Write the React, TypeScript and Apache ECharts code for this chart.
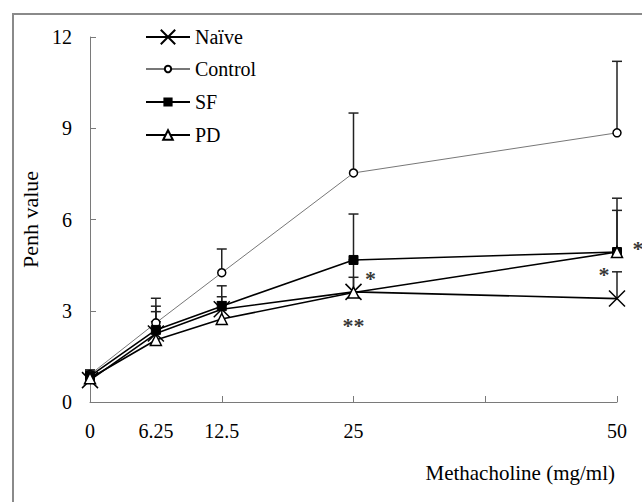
import React, { useEffect, useRef } from "react";
import * as echarts from "echarts";

const doses = [0, 6.25, 12.5, 25, 50];
const xTickLabels = [0, 6.25, 12.5, 25, 50];
const seriesNames = ["Naïve", "Control", "SF", "PD"];
const naive = [0.72, 2.25, 3.05, 3.62, 3.4];
const control = [0.9, 2.6, 4.25, 7.53, 8.85];
const sf = [0.85, 2.37, 3.15, 4.67, 4.93];
const pd = [0.78, 2.04, 2.73, 3.6, 4.93];
const naiveUpper = [1.0, 2.97, 3.46, 4.1, 4.28];
const controlUpper = [1.05, 3.41, 5.03, 9.5, 11.2];
const sfUpper = [1.05, 3.15, 3.82, 6.18, 6.7];
const pdUpper = [0.95, 2.64, 3.3, 4.67, 6.3];
const annotationPoints = [
  { x: 25, y: 3.62, text: "*" },
  { x: 25, y: 3.62, text: "**" },
  { x: 50, y: 4.93, text: "*" },
  { x: 50, y: 4.28, text: "*" },
];
const annotationOffsets = [
  [17, -13],
  [0, 34],
  [21, -4],
  [-13, 3],
];
const legendRowY = [37, 69, 102, 135];
const legendIconHeights = [18, 8, 9, 12];

const FONT = "Liberation Serif";
const AXIS_GRAY = "#7a7a7a";

export default function App() {
  const ref = useRef<HTMLDivElement>(null);
  useEffect(() => {
    if (!ref.current) return;
    const chart = echarts.init(ref.current, undefined, { renderer: "svg" });
    const means = [naive, control, sf, pd];
    const uppers = [naiveUpper, controlUpper, sfUpper, pdUpper];
    const errData: number[][] = [];
    means.forEach((m, si) => {
      doses.forEach((d, i) => errData.push([d, m[i], uppers[si][i]]));
    });
    const toPts = (arr: number[]) => doses.map((d, i) => [d, arr[i]]);
    const baseLine = { color: "#000", width: 1.6 };
    const serifText = { fontFamily: FONT, fontSize: 20, lineHeight: 20, color: "#000" };
    const option: any = {
      animation: false,
      backgroundColor: "#fff",
      textStyle: { fontFamily: FONT },
      grid: { left: 90, right: 25, top: 37, bottom: 100 },
      title: {
        text: "Methacholine (mg/ml)",
        right: 22,
        top: 457,
        textStyle: { fontFamily: FONT, fontSize: 21, fontWeight: "normal", color: "#000" },
      },
      legend: seriesNames.map((name, i) => ({
        orient: "vertical",
        left: 140,
        top: legendRowY[i] - 15,
        itemWidth: 44,
        itemHeight: legendIconHeights[i],
        data: [name],
        formatter: "{s|{name}}",
        textStyle: { ...serifText, rich: { s: serifText } },
      })),
      graphic: [
        {
          type: "rect",
          shape: { x: 13, y: 14, width: 700, height: 600 },
          style: { fill: "none", stroke: "#8a8a8a", lineWidth: 2 },
          z: -10,
          silent: true,
        },
      ],
      xAxis: [
        {
          type: "value",
          min: 0,
          max: 50,
          interval: 12.5,
          axisLine: { lineStyle: { color: AXIS_GRAY, width: 1 } },
          axisTick: { inside: true, length: 6, lineStyle: { color: AXIS_GRAY } },
          axisLabel: { show: false },
          splitLine: { show: false },
        },
        {
          type: "value",
          position: "bottom",
          min: 0,
          max: 50,
          interval: 6.25,
          axisLine: { show: false },
          axisTick: { show: false },
          splitLine: { show: false },
          axisLabel: {
            margin: 19,
            fontFamily: FONT,
            fontSize: 20,
            color: "#000",
            formatter: (v: number) => (xTickLabels.includes(v) ? String(v) : ""),
          },
        },
      ],
      yAxis: {
        type: "value",
        min: 0,
        max: 12,
        interval: 3,
        name: "Penh value",
        nameLocation: "middle",
        nameGap: 44,
        nameTextStyle: { fontFamily: FONT, fontSize: 22, color: "#000" },
        axisLine: { show: true, lineStyle: { color: AXIS_GRAY, width: 1 } },
        axisTick: { show: true, inside: true, length: 6, lineStyle: { color: AXIS_GRAY } },
        axisLabel: { margin: 18, fontFamily: FONT, fontSize: 20, color: "#000" },
        splitLine: { show: false },
      },
      series: [
        {
          type: "custom",
          name: "err",
          xAxisIndex: 0,
          z: 1,
          data: errData,
          renderItem: (params: any, api: any) => {
            const x = api.value(0);
            const p1 = api.coord([x, api.value(1)]);
            const p2 = api.coord([x, api.value(2)]);
            const st = { stroke: "#222", lineWidth: 1.5 };
            return {
              type: "group",
              children: [
                { type: "line", shape: { x1: p1[0], y1: p1[1], x2: p2[0], y2: p2[1] }, style: st },
                { type: "line", shape: { x1: p2[0] - 5, y1: p2[1], x2: p2[0] + 5, y2: p2[1] }, style: st },
              ],
            };
          },
        },
        {
          type: "line",
          name: "Naïve",
          z: 3,
          data: toPts(naive),
          symbol: "path://M0 0L10 10M10 0L0 10",
          symbolSize: 16,
          lineStyle: baseLine,
          itemStyle: { color: "#000", borderColor: "#000", borderWidth: 1.5 },
        },
        {
          type: "line",
          name: "Control",
          z: 2,
          data: toPts(control),
          symbol: "circle",
          symbolSize: 8,
          lineStyle: { color: "#777", width: 1 },
          itemStyle: { color: "#fff", borderColor: "#000", borderWidth: 1.5 },
        },
        {
          type: "line",
          name: "SF",
          z: 3,
          data: toPts(sf),
          symbol: "rect",
          symbolSize: 9,
          lineStyle: baseLine,
          itemStyle: { color: "#000", borderColor: "#000", borderWidth: 1 },
        },
        {
          type: "line",
          name: "PD",
          z: 4,
          data: toPts(pd),
          symbol: "triangle",
          symbolSize: 11,
          lineStyle: baseLine,
          itemStyle: { color: "#fff", borderColor: "#000", borderWidth: 1.5 },
        },
        {
          type: "scatter",
          name: "annotations",
          z: 5,
          symbolSize: 0,
          itemStyle: { color: "#000" },
          label: { show: true, color: "#000" },
          data: annotationPoints.map((a, i) => ({
            value: [a.x, a.y],
            label: {
              show: true,
              formatter: a.text,
              offset: annotationOffsets[i],
              fontFamily: FONT,
              fontSize: 22,
              fontWeight: "bold",
              color: "#000",
              textBorderWidth: 0,
            },
          })),
        },
      ],
    };
    chart.setOption(option);
    return () => chart.dispose();
  }, []);
  return (
    <div
      ref={ref}
      style={{ position: "fixed", left: 0, top: 0, width: 642, height: 502, background: "#fff" }}
    />
  );
}
